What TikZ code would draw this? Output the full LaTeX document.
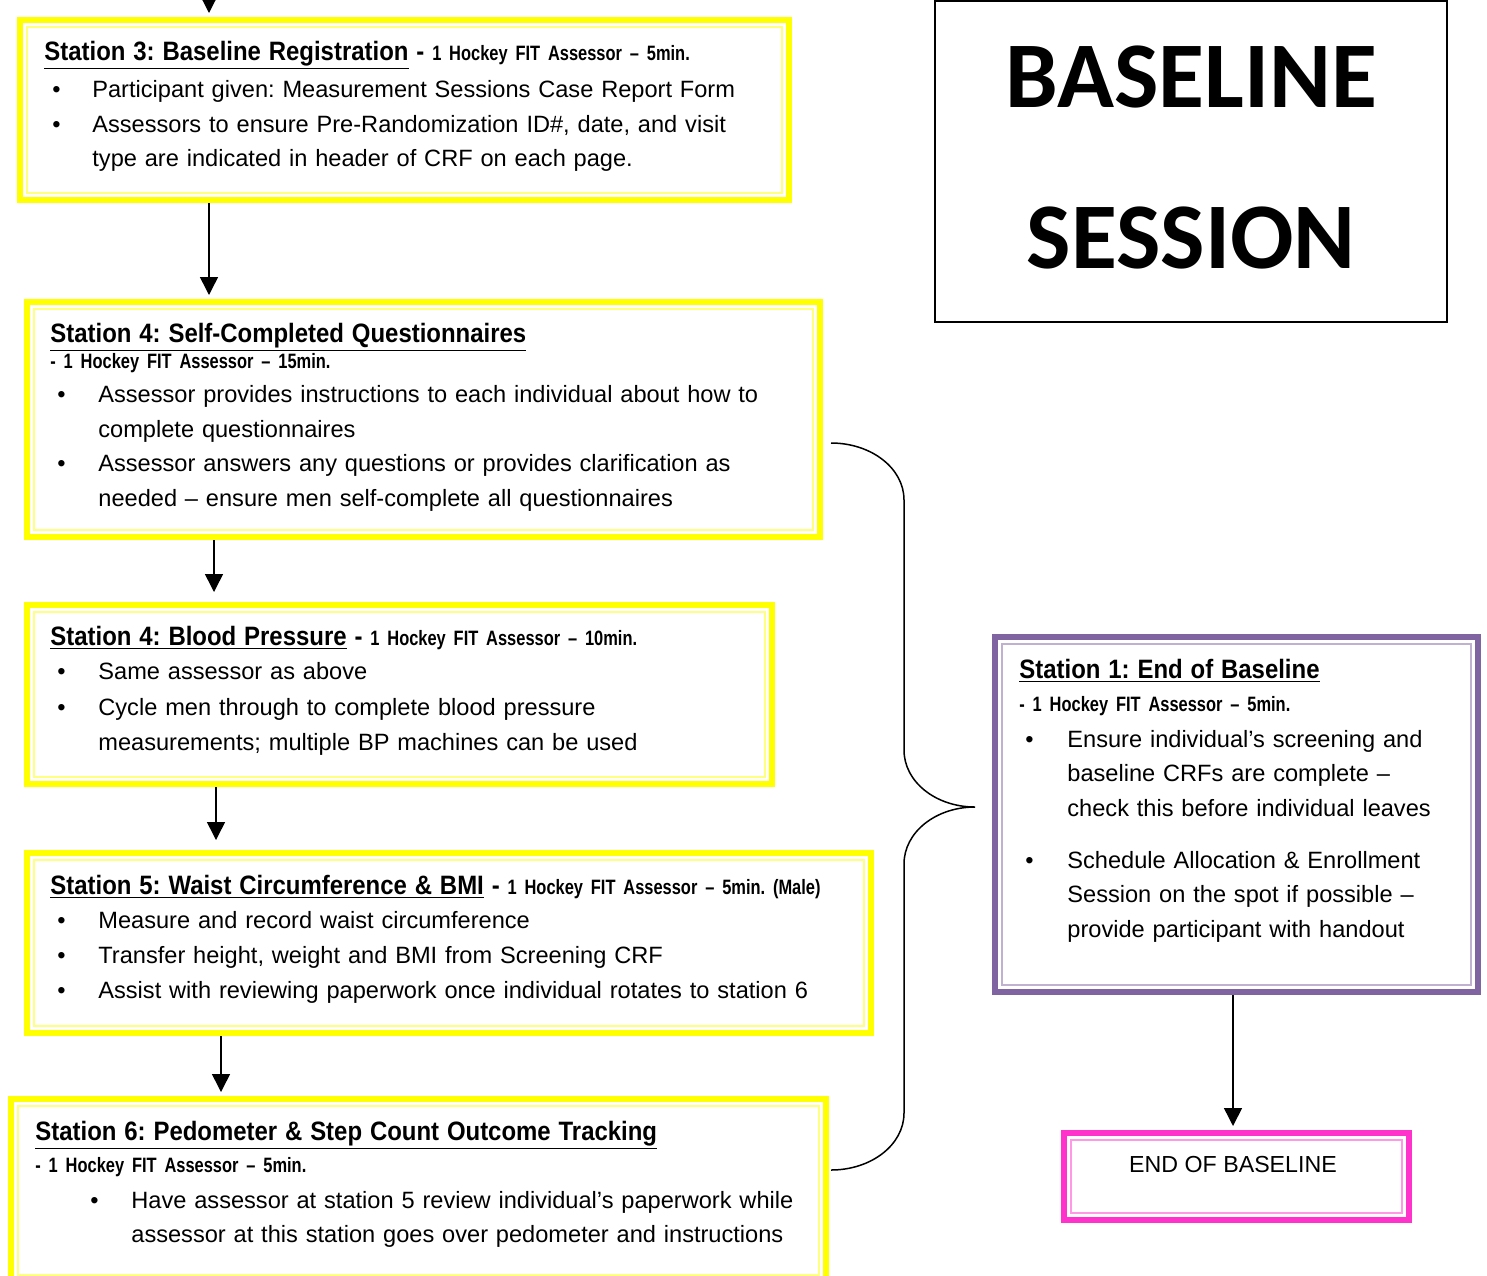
\documentclass[tikz,border=0pt]{standalone}
\usepackage{fontspec}
\setmainfont{Liberation Sans}
\newfontfamily\narrowfont{Liberation Sans}[FakeStretch=0.9,WordSpace=0.65]
\newfontfamily\subfont{Liberation Sans}[FakeStretch=0.79,WordSpace=0.5]
\newfontfamily\bigfont{Carlito}
\usetikzlibrary{arrows.meta,positioning}
\definecolor{stayellow}{RGB}{255,255,0}
\definecolor{stapurple}{RGB}{128,100,162}
\definecolor{stapink}{RGB}{255,51,204}
\newcommand{\sttitle}[1]{{\narrowfont\bfseries\fontsize{13.3}{17.25}\selectfont\underline{#1}}}
\newcommand{\stsub}[1]{{\subfont\bfseries\fontsize{10.4}{17.25}\selectfont #1}}
\newcommand{\stdash}{{\narrowfont\bfseries\fontsize{13.3}{17.25}\selectfont -}}
\newcommand{\bul}[2]{\makebox[#2][l]{\hspace*{#1}\textbullet}}

\begin{document}
\frenchspacing
\begin{tikzpicture}[x=0.5pt,y=-0.5pt]
\tikzset{stabox/.style={draw=#1,line width=3pt,anchor=north west,inner sep=0pt,
                        path picture={\draw[#1!50,line width=1pt]
                          ([shift={(3.5pt,-3.5pt)}]path picture bounding box.north west) rectangle
                          ([shift={(-3.5pt,3.5pt)}]path picture bounding box.south east);}},
         statext/.style={anchor=base west,inner sep=0pt,text width=440pt,align=left,
                         font=\fontsize{11.8}{17.25}\selectfont},
         flow/.style={-{Triangle[length=9pt,width=9pt]},line width=0.75pt,shorten >=2pt}
}
\useasboundingbox (0,0) rectangle (1487,1275);

% station boxes
\node[stabox=stayellow,minimum width=384.5pt,minimum height=90pt]   (s3)   at (17,17)    {};
\node[stabox=stayellow,minimum width=396.5pt,minimum height=117.5pt] (s4q)  at (24,299)   {};
\node[stabox=stayellow,minimum width=372.5pt,minimum height=89.5pt] (s4bp) at (24,602)   {};
\node[stabox=stayellow,minimum width=422pt,minimum height=90pt]     (s5)   at (24,850)   {};
\node[stabox=stayellow,minimum width=407.5pt,minimum height=91.5pt] (s6)   at (8,1096)   {};
\node[stabox=stapurple,minimum width=241.5pt,minimum height=177.5pt] (s1)  at (992,634)  {};
\node[stabox=stapink,minimum width=172.5pt,minimum height=43.5pt]   (fin)  at (1061,1130) {};

% texts
\node[statext] (s3txt) at (44,60) {\sttitle{Station 3: Baseline Registration} \stdash{} \stsub{1 Hockey FIT Assessor – 5min.}\\[1.5pt]
  \bul{4pt}{24pt}Participant given: Measurement Sessions Case Report Form\\
  \bul{4pt}{24pt}Assessors to ensure Pre-Randomization ID\#, date, and visit\\
  \hspace*{24pt}type are indicated in header of CRF on each page.};
\node[statext] (s4qtxt) at (50,342) {\sttitle{Station 4: Self-Completed Questionnaires}\\[-4.25pt]
  \stsub{- 1 Hockey FIT Assessor – 15min.}\\
  \bul{3.5pt}{24pt}Assessor provides instructions to each individual about how to\\
  \hspace*{24pt}complete questionnaires\\
  \bul{3.5pt}{24pt}Assessor answers any questions or provides clarification as\\
  \hspace*{24pt}needed – ensure men self-complete all questionnaires};
\node[statext] (s4bptxt) at (50,645) {\sttitle{Station 4: Blood Pressure} \stdash{} \stsub{1 Hockey FIT Assessor – 10min.}\\
  \bul{3.5pt}{24pt}Same assessor as above\\[0.75pt]
  \bul{3.5pt}{24pt}Cycle men through to complete blood pressure\\
  \hspace*{24pt}measurements; multiple BP machines can be used};
\node[statext] (s5txt) at (50,894) {\sttitle{Station 5: Waist Circumference \& BMI} \stdash{} \stsub{1 Hockey FIT Assessor – 5min. (Male)}\\
  \bul{3.5pt}{24pt}Measure and record waist circumference\\
  \bul{3.5pt}{24pt}Transfer height, weight and BMI from Screening CRF\\[0.5pt]
  \bul{3.5pt}{24pt}Assist with reviewing paperwork once individual rotates to station 6};
\node[statext] (s6txt) at (35,1140) {\sttitle{Station 6: Pedometer \& Step Count Outcome Tracking}\\[-1.25pt]
  \stsub{- 1 Hockey FIT Assessor – 5min.}\\[0.75pt]
  \bul{27.5pt}{48pt}Have assessor at station 5 review individual’s paperwork while\\
  \hspace*{48pt}assessor at this station goes over pedometer and instructions};
\node[statext] (s1txt) at (1019,678) {\sttitle{Station 1: End of Baseline}\\[-0.75pt]
  \stsub{- 1 Hockey FIT Assessor – 5min.}\\[0.75pt]
  \bul{3pt}{24pt}Ensure individual’s screening and\\
  \hspace*{24pt}baseline CRFs are complete –\\
  \hspace*{24pt}check this before individual leaves\\[8.75pt]
  \bul{3pt}{24pt}Schedule Allocation \& Enrollment\\
  \hspace*{24pt}Session on the spot if possible –\\
  \hspace*{24pt}provide participant with handout};
\node[anchor=base,inner sep=0pt,font=\fontsize{11.6}{14}\selectfont] (fintxt) at (1233,1172) {END OF BASELINE};

\node[draw,line width=1pt,minimum width=256pt,minimum height=160.5pt,align=center,text depth=4pt,
      font=\bigfont\bfseries\fontsize{47}{80.5}\selectfont] (session) at (1191,161.5) {BASELINE\\SESSION};

% arrows
\coordinate (a0) at (209,-40);
\coordinate (a1) at (209,250);
\coordinate (a2) at (214,570);
\coordinate (a3) at (216,815);
\coordinate (a4) at (221,1060);
\coordinate (a5) at (1233,1060);
\draw[flow] (a0) -- (s3.north -| a0);
\draw[flow] (s3.south -| a1) -- (s4q.north -| a1);
\draw[flow] (s4q.south -| a2) -- ([yshift=3pt]s4bp.north -| a2);
\draw[flow] (s4bp.south -| a3) -- ([yshift=3pt]s5.north -| a3);
\draw[flow] (s5.south -| a4) -- (s6.north -| a4);
\draw[flow] (s1.south -| a5) -- (fin.north -| a5);

% brace
\draw[line width=0.75pt] (831,443) .. controls (871,443) and (904,468) .. (904,500) -- (904,750)
  .. controls (904,782) and (936,807) .. (975,807)
  .. controls (936,807) and (904,832) .. (904,864) -- (904,1113)
  .. controls (904,1145) and (871,1170) .. (831,1170);
\end{tikzpicture}
\end{document}
